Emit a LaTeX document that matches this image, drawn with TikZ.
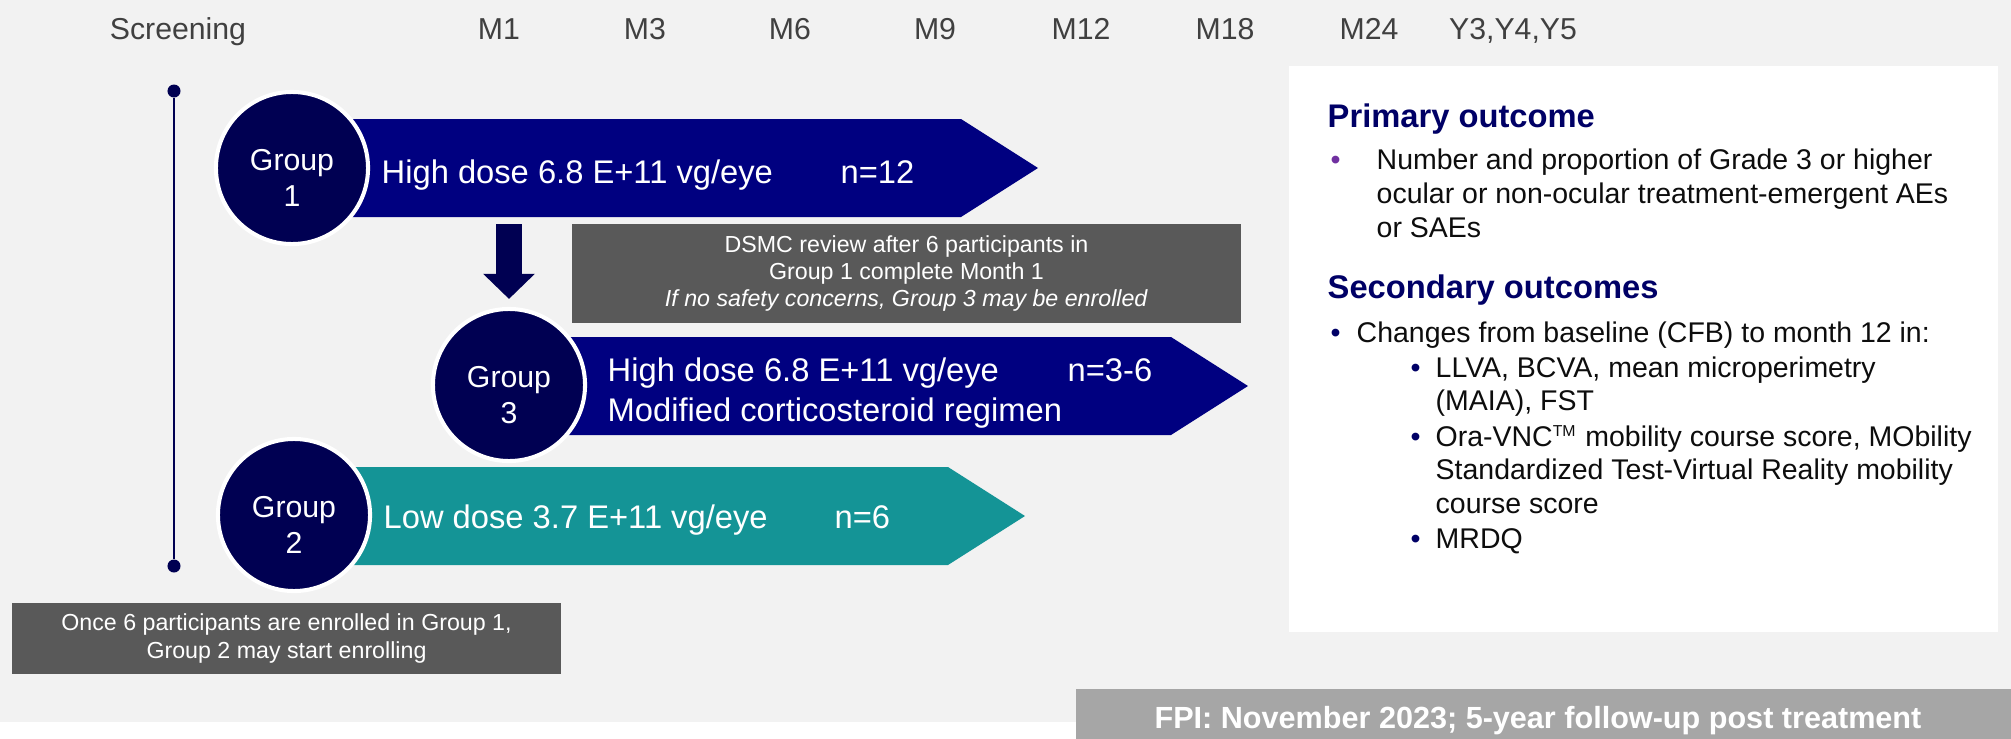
\documentclass[tikz,border=0pt]{standalone}
\usepackage{fontspec}
\setmainfont{Liberation Sans}
\usepackage{tikz}
\usetikzlibrary{arrows.meta,positioning}

\definecolor{pagegrey}{RGB}{242,242,242}
\definecolor{boxgrey}{RGB}{89,89,89}
\definecolor{bargrey}{RGB}{166,166,166}
\definecolor{headgrey}{RGB}{64,64,64}
\definecolor{navyarm}{RGB}{0,0,128}
\definecolor{navydot}{RGB}{0,0,82}
\definecolor{tealarm}{RGB}{20,148,150}
\definecolor{headnavy}{RGB}{0,0,102}
\definecolor{bulletpurple}{RGB}{112,48,160}
\definecolor{outblack}{RGB}{13,13,13}

\begin{document}
\begin{tikzpicture}[x=0.01cm, y=-0.01cm,
  visit/.style={anchor=base, inner sep=0, text=headgrey, font=\fontsize{8.6}{10}\selectfont},
  dot/.style={circle, fill=navydot, minimum size=0.13cm, inner sep=0},
  timeline/.style={draw=navydot, line width=0.7pt},
  group/.style={circle, fill=navydot, draw=white, line width=1.15pt, minimum size=1.52cm, inner sep=0},
  grouplabel/.style={inner sep=0, text=white, align=center, font=\fontsize{8.6}{10.2}\selectfont},
  armtext/.style={anchor=base west, inner sep=0, text=white, font=\fontsize{9.3}{11}\selectfont},
  notebox/.style={fill=boxgrey, inner sep=0, text=white, align=center, font=\fontsize{6.6}{7.7}\selectfont},
  drop/.style={draw=navydot, line width=0.26cm, -{Triangle[width=0.5cm,length=0.25cm]}, shorten >=0.08cm},
  outtext/.style={anchor=base west, inner sep=0, text=outblack, font=\fontsize{8.1}{9.7}\selectfont},
  outhead/.style={anchor=base west, inner sep=0, text=headnavy, font=\fontsize{9.3}{11}\selectfont\bfseries},
]
\useasboundingbox (0,0) rectangle (2011,739);
\fill[white] (0,0) rectangle (2011,739);
\fill[pagegrey] (0,0) rectangle (2011,722);

% visit schedule
\foreach \x/\t [count=\i] in {178/Screening, 499/M1, 645/M3, 790/M6, 935/M9,
    1081/M12, 1225/M18, 1369/M24, 1513/{Y3,Y4,Y5}}
  \node[visit] (visit\i) at (\x,39) {\t};

% enrolment line
\node[dot] (top) at (174,91) {};
\node[dot] (bottom) at (174,566) {};
\draw[timeline] (top) -- (bottom);

% dosing arms
\fill[navyarm] (292,119) -- (961,119) -- (1038,168) -- (961,217) -- (292,217) -- cycle;
\fill[navyarm] (509,337) -- (1171,337) -- (1248,386) -- (1171,435) -- (509,435) -- cycle;
\fill[tealarm] (294,467) -- (948,467) -- (1025,516) -- (948,565) -- (294,565) -- cycle;

\node[group] (g1) at (292,168) {};
\node[group] (g3) at (509,385) {};
\node[group] (g2) at (294,515) {};
\node[grouplabel] (g1text) at ([yshift=-0.1cm]g1.center) {Group\\1};
\node[grouplabel] (g3text) at ([yshift=-0.1cm]g3.center) {Group\\3};
\node[grouplabel] (g2text) at ([yshift=-0.1cm]g2.center) {Group\\2};

\node[armtext] (dose1) at (381,183) {High dose 6.8 E+11 vg/eye};
\node[armtext] (n1) at (840,183) {n=12};
\node[armtext] (dose3) at (607,381) {High dose 6.8 E+11 vg/eye};
\node[armtext] (reg3) at (607,421) {Modified corticosteroid regimen};
\node[armtext] (n3) at (1067,381) {n=3-6};
\node[armtext] (dose2) at (383,528) {Low dose 3.7 E+11 vg/eye};
\node[armtext] (n2) at (834,528) {n=6};

% DSMC step from group 1 to group 3
\coordinate (dropstart) at (509,224);
\draw[drop] (dropstart) -- (g3.north);

\node[notebox, minimum width=6.69cm, minimum height=0.99cm] (dsmc) at (906.5,273.5)
  {DSMC review after 6 participants in\\Group 1 complete Month 1\\\textit{If no safety concerns, Group 3 may be enrolled}};
\node[notebox, minimum width=5.49cm, minimum height=0.71cm] (stagger) at (286.5,638.5)
  {Once 6 participants are enrolled in Group 1,\\Group 2 may start enrolling};

% outcomes panel
\fill[white] (1289,66) rectangle (1998,632);
\node[outhead] (primary) at (1327,127) {Primary outcome};
\node[outtext, text=bulletpurple] (pbullet) at (1330,169) {•};
\foreach \y/\t [count=\i] in {169/{Number and proportion of Grade 3 or higher},
    203/{ocular or non-ocular treatment-emergent AEs}, 237/{or SAEs}}
  \node[outtext] (prim\i) at (1376,\y) {\t};

\node[outhead] (secondary) at (1327,298) {Secondary outcomes};
\node[outtext, text=headnavy] (sbullet) at (1330,342) {•};
\node[outtext] (cfb) at (1356,342) {Changes from baseline (CFB) to month 12 in:};
\foreach \y [count=\i] in {377, 446, 548}
  \node[outtext, text=headnavy] (subbullet\i) at (1410,\y) {•};
\foreach \y/\t [count=\i] in {377/{LLVA, BCVA, mean microperimetry}, 410/{(MAIA), FST},
    446/{Ora-VNC\textsuperscript{\fontsize{4.5}{5}\selectfont TM} mobility course score, MObility},
    479/{Standardized Test-Virtual Reality mobility}, 513/{course score}, 548/{MRDQ}}
  \node[outtext] (sec\i) at (1435,\y) {\t};

% first patient in
\fill[bargrey] (1076,689) rectangle (2011,739);
\node[anchor=base, inner sep=0, text=white, font=\fontsize{8.7}{10}\selectfont\bfseries] (fpi) at (1538,728)
  {FPI: November 2023; 5-year follow-up post treatment};
\end{tikzpicture}
\end{document}
